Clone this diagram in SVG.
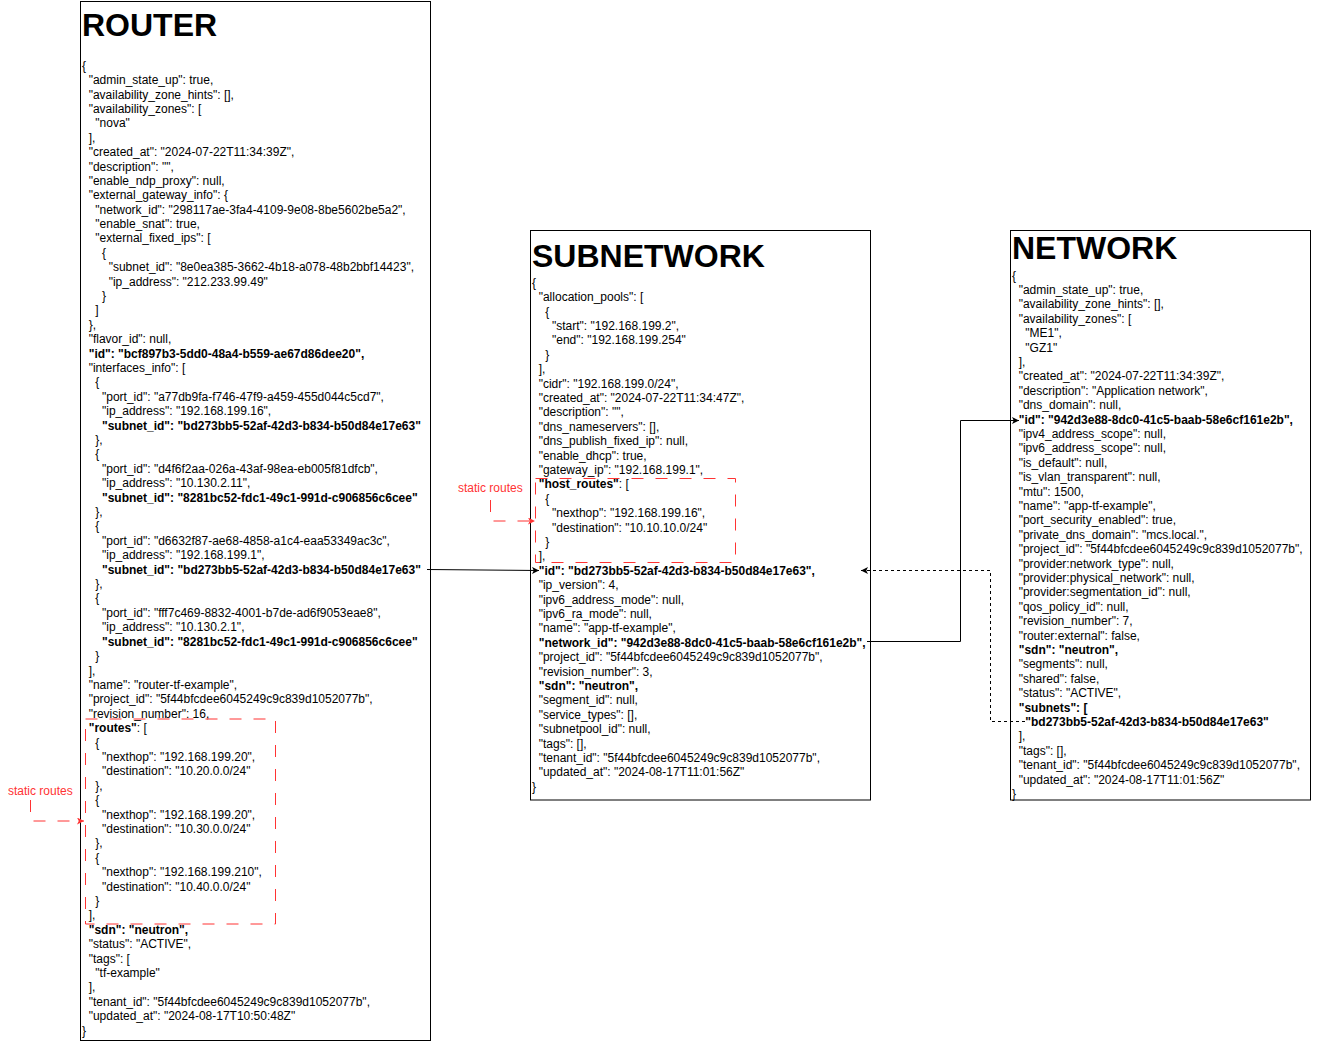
<svg xmlns="http://www.w3.org/2000/svg" width="1335" height="1062" viewBox="0 0 1335 1062">
<style>
.t{font-family:"Liberation Sans",Arial,sans-serif;font-size:12px;fill:#000}
.b{font-weight:bold}
.title{font-family:"Liberation Sans",Arial,sans-serif;font-size:32px;font-weight:bold;fill:#000}
.box{fill:#fff;stroke:#000;stroke-width:1}
.redbox{fill:none;stroke:#FF3333;stroke-width:1;stroke-dasharray:12 12}
.lbl{font-family:"Liberation Sans",Arial,sans-serif;font-size:12px;fill:#FF3333}
.conn{fill:none;stroke:#000;stroke-width:1}
.dash{stroke-dasharray:3 3}
.redc{fill:none;stroke:#FF3333;stroke-width:1;stroke-dasharray:12 12}
</style>
<defs>
<marker id="ab" markerUnits="userSpaceOnUse" markerWidth="8" markerHeight="8" viewBox="0 0 8 8" refX="7" refY="3.5" orient="auto"><path d="M0,0 L7,3.5 L0,7 L1.75,3.5 Z" fill="#000"/></marker>
<marker id="ar" markerUnits="userSpaceOnUse" markerWidth="8" markerHeight="8" viewBox="0 0 8 8" refX="7" refY="3.5" orient="auto"><path d="M0,0 L7,3.5 L0,7 L1.75,3.5 Z" fill="#FF3333"/></marker>
</defs>
<rect width="1335" height="1062" fill="#fff"/>

<g id="router">
<rect class="box" x="80.5" y="1.5" width="350" height="1039"/>
<text class="title" x="82" y="36">ROUTER</text>
<text class="t" y="69.7">
<tspan x="82">{</tspan>
<tspan x="88.7" dy="14.4">"admin_state_up": true,</tspan>
<tspan x="88.7" dy="14.4">"availability_zone_hints": [],</tspan>
<tspan x="88.7" dy="14.4">"availability_zones": [</tspan>
<tspan x="95.3" dy="14.4">"nova"</tspan>
<tspan x="88.7" dy="14.4">],</tspan>
<tspan x="88.7" dy="14.4">"created_at": "2024-07-22T11:34:39Z",</tspan>
<tspan x="88.7" dy="14.4">"description": "",</tspan>
<tspan x="88.7" dy="14.4">"enable_ndp_proxy": null,</tspan>
<tspan x="88.7" dy="14.4">"external_gateway_info": {</tspan>
<tspan x="95.3" dy="14.4">"network_id": "298117ae-3fa4-4109-9e08-8be5602be5a2",</tspan>
<tspan x="95.3" dy="14.4">"enable_snat": true,</tspan>
<tspan x="95.3" dy="14.4">"external_fixed_ips": [</tspan>
<tspan x="102" dy="14.4">{</tspan>
<tspan x="108.7" dy="14.4">"subnet_id": "8e0ea385-3662-4b18-a078-48b2bbf14423",</tspan>
<tspan x="108.7" dy="14.4">"ip_address": "212.233.99.49"</tspan>
<tspan x="102" dy="14.4">}</tspan>
<tspan x="95.3" dy="14.4">]</tspan>
<tspan x="88.7" dy="14.4">},</tspan>
<tspan x="88.7" dy="14.4">"flavor_id": null,</tspan>
<tspan x="88.7" dy="14.4" class="b">"id": "bcf897b3-5dd0-48a4-b559-ae67d86dee20",</tspan>
<tspan x="88.7" dy="14.4">"interfaces_info": [</tspan>
<tspan x="95.3" dy="14.4">{</tspan>
<tspan x="102" dy="14.4">"port_id": "a77db9fa-f746-47f9-a459-455d044c5cd7",</tspan>
<tspan x="102" dy="14.4">"ip_address": "192.168.199.16",</tspan>
<tspan x="102" dy="14.4" class="b">"subnet_id": "bd273bb5-52af-42d3-b834-b50d84e17e63"</tspan>
<tspan x="95.3" dy="14.4">},</tspan>
<tspan x="95.3" dy="14.4">{</tspan>
<tspan x="102" dy="14.4">"port_id": "d4f6f2aa-026a-43af-98ea-eb005f81dfcb",</tspan>
<tspan x="102" dy="14.4">"ip_address": "10.130.2.11",</tspan>
<tspan x="102" dy="14.4" class="b">"subnet_id": "8281bc52-fdc1-49c1-991d-c906856c6cee"</tspan>
<tspan x="95.3" dy="14.4">},</tspan>
<tspan x="95.3" dy="14.4">{</tspan>
<tspan x="102" dy="14.4">"port_id": "d6632f87-ae68-4858-a1c4-eaa53349ac3c",</tspan>
<tspan x="102" dy="14.4">"ip_address": "192.168.199.1",</tspan>
<tspan x="102" dy="14.4" class="b">"subnet_id": "bd273bb5-52af-42d3-b834-b50d84e17e63"</tspan>
<tspan x="95.3" dy="14.4">},</tspan>
<tspan x="95.3" dy="14.4">{</tspan>
<tspan x="102" dy="14.4">"port_id": "fff7c469-8832-4001-b7de-ad6f9053eae8",</tspan>
<tspan x="102" dy="14.4">"ip_address": "10.130.2.1",</tspan>
<tspan x="102" dy="14.4" class="b">"subnet_id": "8281bc52-fdc1-49c1-991d-c906856c6cee"</tspan>
<tspan x="95.3" dy="14.4">}</tspan>
<tspan x="88.7" dy="14.4">],</tspan>
<tspan x="88.7" dy="14.4">"name": "router-tf-example",</tspan>
<tspan x="88.7" dy="14.4">"project_id": "5f44bfcdee6045249c9c839d1052077b",</tspan>
<tspan x="88.7" dy="14.4">"revision_number": 16,</tspan>
<tspan x="88.7" dy="14.4"><tspan class="b">"routes"</tspan>: [</tspan>
<tspan x="95.3" dy="14.4">{</tspan>
<tspan x="102" dy="14.4">"nexthop": "192.168.199.20",</tspan>
<tspan x="102" dy="14.4">"destination": "10.20.0.0/24"</tspan>
<tspan x="95.3" dy="14.4">},</tspan>
<tspan x="95.3" dy="14.4">{</tspan>
<tspan x="102" dy="14.4">"nexthop": "192.168.199.20",</tspan>
<tspan x="102" dy="14.4">"destination": "10.30.0.0/24"</tspan>
<tspan x="95.3" dy="14.4">},</tspan>
<tspan x="95.3" dy="14.4">{</tspan>
<tspan x="102" dy="14.4">"nexthop": "192.168.199.210",</tspan>
<tspan x="102" dy="14.4">"destination": "10.40.0.0/24"</tspan>
<tspan x="95.3" dy="14.4">}</tspan>
<tspan x="88.7" dy="14.4">],</tspan>
<tspan x="88.7" dy="14.4" class="b">"sdn": "neutron",</tspan>
<tspan x="88.7" dy="14.4">"status": "ACTIVE",</tspan>
<tspan x="88.7" dy="14.4">"tags": [</tspan>
<tspan x="95.3" dy="14.4">"tf-example"</tspan>
<tspan x="88.7" dy="14.4">],</tspan>
<tspan x="88.7" dy="14.4">"tenant_id": "5f44bfcdee6045249c9c839d1052077b",</tspan>
<tspan x="88.7" dy="14.4">"updated_at": "2024-08-17T10:50:48Z"</tspan>
<tspan x="82" dy="14.4">}</tspan>
</text>
</g>

<g id="subnetwork">
<rect class="box" x="530.5" y="230.5" width="340" height="569.5"/>
<text class="title" x="532" y="267">SUBNETWORK</text>
<text class="t" y="286.8">
<tspan x="532">{</tspan>
<tspan x="538.7" dy="14.4">"allocation_pools": [</tspan>
<tspan x="545.3" dy="14.4">{</tspan>
<tspan x="552" dy="14.4">"start": "192.168.199.2",</tspan>
<tspan x="552" dy="14.4">"end": "192.168.199.254"</tspan>
<tspan x="545.3" dy="14.4">}</tspan>
<tspan x="538.7" dy="14.4">],</tspan>
<tspan x="538.7" dy="14.4">"cidr": "192.168.199.0/24",</tspan>
<tspan x="538.7" dy="14.4">"created_at": "2024-07-22T11:34:47Z",</tspan>
<tspan x="538.7" dy="14.4">"description": "",</tspan>
<tspan x="538.7" dy="14.4">"dns_nameservers": [],</tspan>
<tspan x="538.7" dy="14.4">"dns_publish_fixed_ip": null,</tspan>
<tspan x="538.7" dy="14.4">"enable_dhcp": true,</tspan>
<tspan x="538.7" dy="14.4">"gateway_ip": "192.168.199.1",</tspan>
<tspan x="538.7" dy="14.4"><tspan class="b">"host_routes"</tspan>: [</tspan>
<tspan x="545.3" dy="14.4">{</tspan>
<tspan x="552" dy="14.4">"nexthop": "192.168.199.16",</tspan>
<tspan x="552" dy="14.4">"destination": "10.10.10.0/24"</tspan>
<tspan x="545.3" dy="14.4">}</tspan>
<tspan x="538.7" dy="14.4">],</tspan>
<tspan x="538.7" dy="14.4" class="b">"id": "bd273bb5-52af-42d3-b834-b50d84e17e63",</tspan>
<tspan x="538.7" dy="14.4">"ip_version": 4,</tspan>
<tspan x="538.7" dy="14.4">"ipv6_address_mode": null,</tspan>
<tspan x="538.7" dy="14.4">"ipv6_ra_mode": null,</tspan>
<tspan x="538.7" dy="14.4">"name": "app-tf-example",</tspan>
<tspan x="538.7" dy="14.4" class="b">"network_id": "942d3e88-8dc0-41c5-baab-58e6cf161e2b",</tspan>
<tspan x="538.7" dy="14.4">"project_id": "5f44bfcdee6045249c9c839d1052077b",</tspan>
<tspan x="538.7" dy="14.4">"revision_number": 3,</tspan>
<tspan x="538.7" dy="14.4" class="b">"sdn": "neutron",</tspan>
<tspan x="538.7" dy="14.4">"segment_id": null,</tspan>
<tspan x="538.7" dy="14.4">"service_types": [],</tspan>
<tspan x="538.7" dy="14.4">"subnetpool_id": null,</tspan>
<tspan x="538.7" dy="14.4">"tags": [],</tspan>
<tspan x="538.7" dy="14.4">"tenant_id": "5f44bfcdee6045249c9c839d1052077b",</tspan>
<tspan x="538.7" dy="14.4">"updated_at": "2024-08-17T11:01:56Z"</tspan>
<tspan x="532" dy="14.4">}</tspan>
</text>
</g>

<g id="network">
<rect class="box" x="1010.5" y="230.5" width="300" height="569.5"/>
<text class="title" x="1012" y="259">NETWORK</text>
<text class="t" y="279.6">
<tspan x="1012">{</tspan>
<tspan x="1018.7" dy="14.4">"admin_state_up": true,</tspan>
<tspan x="1018.7" dy="14.4">"availability_zone_hints": [],</tspan>
<tspan x="1018.7" dy="14.4">"availability_zones": [</tspan>
<tspan x="1025.3" dy="14.4">"ME1",</tspan>
<tspan x="1025.3" dy="14.4">"GZ1"</tspan>
<tspan x="1018.7" dy="14.4">],</tspan>
<tspan x="1018.7" dy="14.4">"created_at": "2024-07-22T11:34:39Z",</tspan>
<tspan x="1018.7" dy="14.4">"description": "Application network",</tspan>
<tspan x="1018.7" dy="14.4">"dns_domain": null,</tspan>
<tspan x="1018.7" dy="14.4" class="b">"id": "942d3e88-8dc0-41c5-baab-58e6cf161e2b",</tspan>
<tspan x="1018.7" dy="14.4">"ipv4_address_scope": null,</tspan>
<tspan x="1018.7" dy="14.4">"ipv6_address_scope": null,</tspan>
<tspan x="1018.7" dy="14.4">"is_default": null,</tspan>
<tspan x="1018.7" dy="14.4">"is_vlan_transparent": null,</tspan>
<tspan x="1018.7" dy="14.4">"mtu": 1500,</tspan>
<tspan x="1018.7" dy="14.4">"name": "app-tf-example",</tspan>
<tspan x="1018.7" dy="14.4">"port_security_enabled": true,</tspan>
<tspan x="1018.7" dy="14.4">"private_dns_domain": "mcs.local.",</tspan>
<tspan x="1018.7" dy="14.4">"project_id": "5f44bfcdee6045249c9c839d1052077b",</tspan>
<tspan x="1018.7" dy="14.4">"provider:network_type": null,</tspan>
<tspan x="1018.7" dy="14.4">"provider:physical_network": null,</tspan>
<tspan x="1018.7" dy="14.4">"provider:segmentation_id": null,</tspan>
<tspan x="1018.7" dy="14.4">"qos_policy_id": null,</tspan>
<tspan x="1018.7" dy="14.4">"revision_number": 7,</tspan>
<tspan x="1018.7" dy="14.4">"router:external": false,</tspan>
<tspan x="1018.7" dy="14.4" class="b">"sdn": "neutron",</tspan>
<tspan x="1018.7" dy="14.4">"segments": null,</tspan>
<tspan x="1018.7" dy="14.4">"shared": false,</tspan>
<tspan x="1018.7" dy="14.4">"status": "ACTIVE",</tspan>
<tspan x="1018.7" dy="14.4" class="b">"subnets": [</tspan>
<tspan x="1025.3" dy="14.4" class="b">"bd273bb5-52af-42d3-b834-b50d84e17e63"</tspan>
<tspan x="1018.7" dy="14.4">],</tspan>
<tspan x="1018.7" dy="14.4">"tags": [],</tspan>
<tspan x="1018.7" dy="14.4">"tenant_id": "5f44bfcdee6045249c9c839d1052077b",</tspan>
<tspan x="1018.7" dy="14.4">"updated_at": "2024-08-17T11:01:56Z"</tspan>
<tspan x="1012" dy="14.4">}</tspan>
</text>
</g>

<g id="router-static-routes">
<rect class="redbox" x="85.5" y="719" width="190" height="205"/>
<text class="lbl" x="8" y="795">static routes</text>
</g>
<g id="subnet-static-routes">
<rect class="redbox" x="535.5" y="478.5" width="200" height="84"/>
<text class="lbl" x="458" y="492">static routes</text>
</g>

<g id="connectors">
<path class="conn" d="M427,569.5 L539,570.5" marker-end="url(#ab)"/>
<path class="conn" d="M867,641.5 H960.5 V420.5 H1019" marker-end="url(#ab)"/>
<path class="conn dash" d="M1025,721.5 H990.5 V570.5 H861" marker-end="url(#ab)"/>
<path class="redc" d="M30.5,800 V821 H84" marker-end="url(#ar)"/>
<path class="redc" d="M490.5,500 V521 H535" marker-end="url(#ar)"/>
</g>
</svg>
